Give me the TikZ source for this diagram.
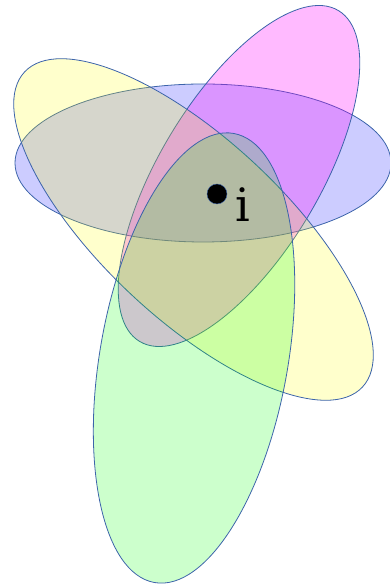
\documentclass[tikz,border=0pt]{standalone}
\usepackage{fontspec}
\usepackage{tikz}
\usetikzlibrary{calc}

\newfontfamily\labelfont{DejaVu Serif}

\definecolor{rim}{RGB}{60,100,170}
\definecolor{setblue}{RGB}{0,0,255}
\definecolor{setmagenta}{RGB}{255,0,255}
\definecolor{setyellow}{RGB}{255,255,0}
\definecolor{setgreen}{RGB}{0,255,0}

\begin{document}
\begin{tikzpicture}[x=1pt, y=1pt,
                    set_line/.style={draw=rim, line width=0.8pt},
                    set_blue/.style={set_line, fill=setblue, fill opacity=0.2},
                    set_magenta/.style={set_line, fill=setmagenta, fill opacity=0.27},
                    set_yellow/.style={set_line, fill=setyellow, fill opacity=0.2},
                    set_green/.style={set_line, fill=setgreen, fill opacity=0.2},
                    point/.style={circle, draw=rim, fill=black, inner sep=0pt, minimum size=20pt}]

    \useasboundingbox (0,0) rectangle (390,585);

    \coordinate (cb) at (203,422);
    \coordinate (cm) at (239,409);
    \coordinate (cy) at (193.5,355.5);
    \coordinate (cg) at (194,227);

    \draw[set_blue] (cb) ellipse (188 and 79);
    \draw[set_magenta, rotate around={-31:(cm)}] (cm) ellipse (80 and 193);
    \draw[set_yellow, rotate around={-43:(cy)}] (cy) ellipse (231 and 90);
    \draw[set_green, rotate around={-10:(cg)}] (cg) ellipse (94 and 228);

    \node[point] (p) at (217,391) {};
    \node[anchor=base, inner sep=0pt, font=\labelfont\fontsize{46}{46}\selectfont] (lbl) at (243,363) {i};
\end{tikzpicture}
\end{document}
